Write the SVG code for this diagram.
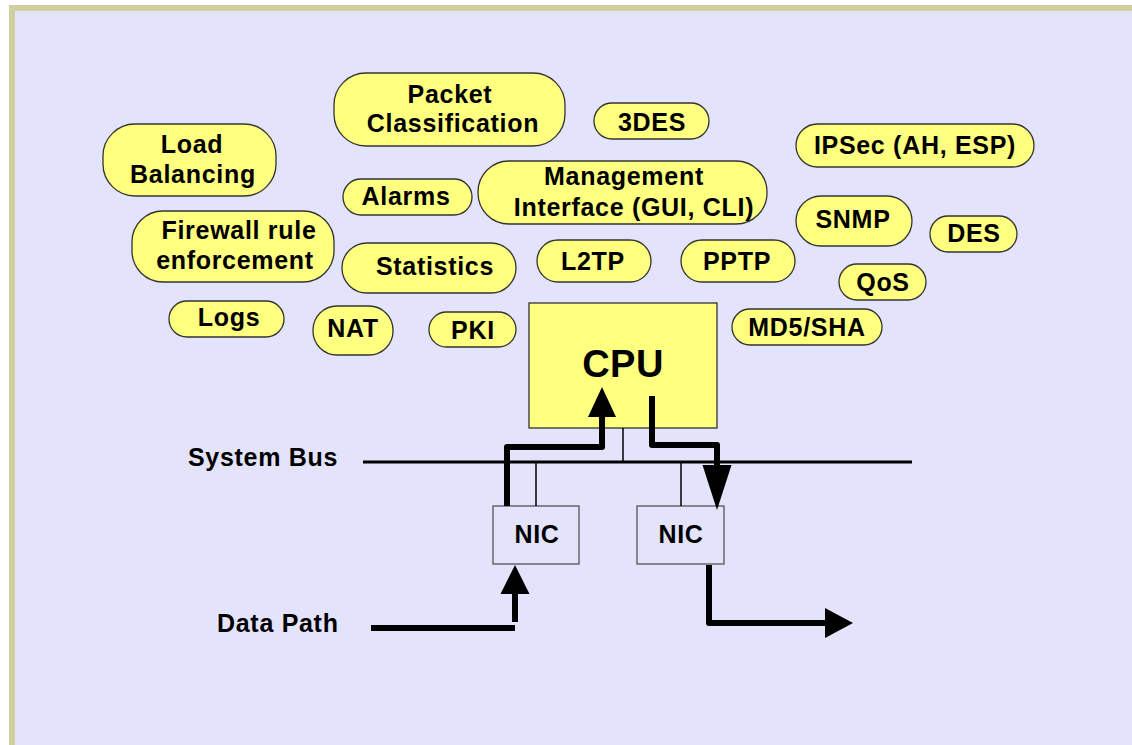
<svg xmlns="http://www.w3.org/2000/svg" width="1132" height="745" viewBox="0 0 1132 745">
  <style>
    .frame { fill: #cfcf9f; }
    .panel { fill: #e3e3fb; }
    .pill { fill: #ffff80; stroke: #333333; stroke-width: 1.3; }
    .cpu { fill: #ffff80; stroke: #333333; stroke-width: 1.3; }
    .nic { fill: #e3e3fb; stroke: #555555; stroke-width: 1.3; }
    text { font-family: "Liberation Sans", Arial, Helvetica, sans-serif; font-weight: bold; font-size: 25px; letter-spacing: 0.7px; fill: #000000; text-anchor: middle; }
    .lbl { text-anchor: start; }
    .big { font-size: 38px; letter-spacing: 0.5px; }
    .thin { fill: none; stroke: #000000; stroke-width: 1.5; }
    .bus { fill: none; stroke: #000000; stroke-width: 3; }
    .flow { fill: none; stroke: #000000; stroke-width: 6; stroke-linejoin: round; }
    .head { fill: #000000; }
  </style>

  <!-- page frame -->
  <rect x="9" y="5" width="1123" height="740" class="frame"/>
  <rect x="15" y="11" width="1117" height="734" class="panel"/>

  <!-- feature bubbles -->
  <g id="load-balancing">
    <rect x="103" y="124" width="173" height="72" rx="32" class="pill"/>
    <text x="192" y="153">Load</text>
    <text x="193" y="183">Balancing</text>
  </g>
  <g id="packet-classification">
    <rect x="334" y="73" width="231" height="73" rx="32" class="pill"/>
    <text x="450" y="103">Packet</text>
    <text x="453" y="132">Classification</text>
  </g>
  <g id="des3">
    <rect x="594" y="103" width="115" height="36" rx="18" class="pill"/>
    <text x="652" y="131">3DES</text>
  </g>
  <g id="ipsec">
    <rect x="796" y="124" width="238" height="43" rx="21.5" class="pill"/>
    <text x="915" y="154">IPSec (AH, ESP)</text>
  </g>
  <g id="alarms">
    <rect x="343" y="179" width="129" height="36" rx="18" class="pill"/>
    <text x="406" y="205">Alarms</text>
  </g>
  <g id="management-interface">
    <rect x="478" y="161" width="289" height="63" rx="31" class="pill"/>
    <text x="624" y="185">Management</text>
    <text x="634" y="216">Interface (GUI, CLI)</text>
  </g>
  <g id="firewall">
    <rect x="132" y="211" width="202" height="71" rx="31" class="pill"/>
    <text x="239" y="239">Firewall rule</text>
    <text x="235" y="269">enforcement</text>
  </g>
  <g id="snmp">
    <rect x="796" y="196" width="116" height="50" rx="25" class="pill"/>
    <text x="853" y="228">SNMP</text>
  </g>
  <g id="des">
    <rect x="930" y="216" width="87" height="36" rx="18" class="pill"/>
    <text x="974" y="242">DES</text>
  </g>
  <g id="statistics">
    <rect x="342" y="243" width="174" height="50" rx="25" class="pill"/>
    <text x="435" y="275">Statistics</text>
  </g>
  <g id="l2tp">
    <rect x="537" y="240" width="114" height="42" rx="21" class="pill"/>
    <text x="593" y="270">L2TP</text>
  </g>
  <g id="pptp">
    <rect x="681" y="240" width="114" height="42" rx="21" class="pill"/>
    <text x="737" y="270">PPTP</text>
  </g>
  <g id="qos">
    <rect x="839" y="264" width="87" height="36" rx="18" class="pill"/>
    <text x="883" y="291">QoS</text>
  </g>
  <g id="logs">
    <rect x="169" y="301" width="115" height="36" rx="18" class="pill"/>
    <text x="229" y="326">Logs</text>
  </g>
  <g id="nat">
    <rect x="313" y="306" width="80" height="49" rx="24" class="pill"/>
    <text x="353" y="337">NAT</text>
  </g>
  <g id="pki">
    <rect x="429" y="312" width="87" height="35" rx="17.5" class="pill"/>
    <text x="473" y="339">PKI</text>
  </g>
  <g id="md5-sha">
    <rect x="732" y="309" width="150" height="36" rx="18" class="pill"/>
    <text x="807" y="336">MD5/SHA</text>
  </g>

  <!-- hardware -->
  <g id="cpu">
    <rect x="529" y="303" width="188" height="125" class="cpu"/>
    <text x="623" y="377" class="big">CPU</text>
  </g>
  <g id="nic-in">
    <rect x="493" y="506" width="86" height="58" class="nic"/>
    <text x="537" y="543">NIC</text>
  </g>
  <g id="nic-out">
    <rect x="637" y="506" width="87" height="58" class="nic"/>
    <text x="681" y="543">NIC</text>
  </g>

  <!-- side labels -->
  <g id="labels">
    <text x="188" y="466" class="lbl">System Bus</text>
    <text x="217" y="632" class="lbl">Data Path</text>
  </g>

  <!-- bus, taps and packet flow -->
  <g id="connectors">
    <path d="M363,462 H912" class="bus"/>
    <path d="M623,428 V462" class="thin"/>
    <path d="M536,462 V506" class="thin"/>
    <path d="M681,462 V506" class="thin"/>

    <!-- ingress: wire into first NIC -->
    <path d="M371,628 H515" class="flow" style="stroke-linejoin: miter"/>
    <path d="M515,622 V590" class="flow"/>
    <polygon points="515,565 500.5,594 529.5,594" class="head"/>

    <!-- NIC up the bus into the CPU -->
    <path d="M507,506 V447 H602 V413" class="flow"/>
    <polygon points="602,387 588,417 616,417" class="head"/>

    <!-- CPU down the bus to second NIC -->
    <path d="M652,396 V445 H717 V470" class="flow"/>
    <polygon points="717,510 702.5,465 731.5,465" class="head"/>

    <!-- egress out of second NIC -->
    <path d="M709,565 V623 H830" class="flow"/>
    <polygon points="853,623 825,608 825,638" class="head"/>
  </g>
</svg>
